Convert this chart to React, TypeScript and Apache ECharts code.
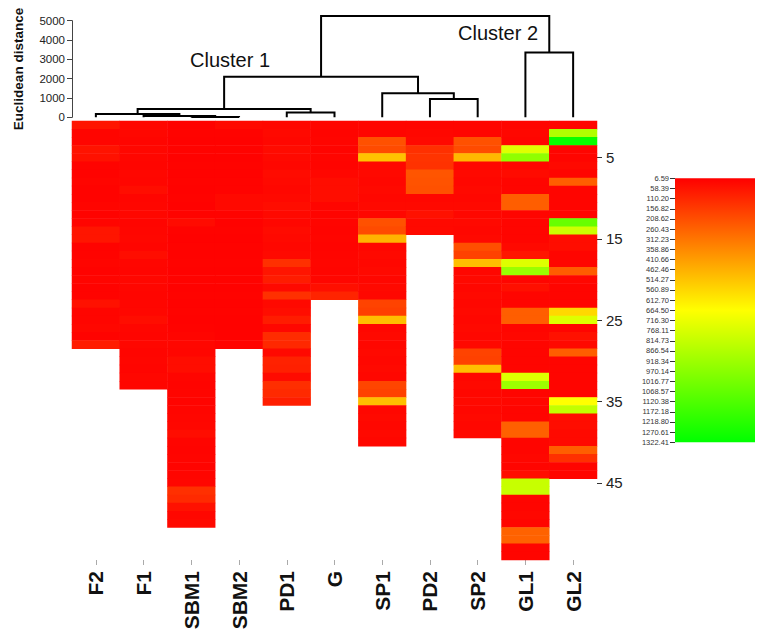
import React, { useEffect, useRef } from "react";
import * as echarts from "echarts";

// ---- Data ----
const categories = ["F2", "F1", "SBM1", "SBM2", "PD1", "G", "SP1", "PD2", "SP2", "GL1", "GL2"];

const colF2 = [60, 20, 20, 55, 50, 15, 15, 20, 15, 15, 20, 15, 20, 60, 60, 15, 15, 20, 15, 20, 15, 15, 50, 20, 20, 25, 15, 80];
const colF1 = [22, 25, 20, 25, 22, 20, 25, 22, 40, 20, 22, 25, 20, 22, 25, 20, 40, 22, 20, 25, 22, 20, 22, 25, 40, 22, 20, 25, 20, 22, 20, 25, 22];
const colSBM1 = [12, 15, 12, 14, 12, 15, 12, 14, 12, 15, 12, 14, 35, 15, 12, 14, 12, 15, 12, 14, 12, 15, 12, 14, 12, 15, 20, 25, 22, 40, 40, 20, 18, 20, 18, 20, 22, 25, 40, 20, 18, 20, 18, 20, 22, 130, 115, 50, 25, 30];
const colSBM2 = [30, 15, 12, 15, 12, 15, 12, 15, 15, 30, 30, 15, 12, 15, 12, 15, 12, 15, 12, 15, 12, 15, 12, 15, 12, 12, 12, 15];
const colPD1 = [25, 30, 25, 35, 30, 25, 35, 30, 25, 30, 40, 30, 25, 35, 30, 25, 30, 130, 60, 80, 30, 130, 30, 40, 80, 25, 120, 110, 30, 95, 90, 35, 125, 115, 85];
const colG = [20, 18, 20, 18, 20, 18, 25, 40, 40, 40, 20, 18, 20, 18, 20, 18, 20, 22, 20, 22, 45, 100];
const colSP1 = [20, 20, 215, 200, 510, 25, 30, 25, 30, 25, 30, 25, 215, 200, 470, 25, 30, 25, 30, 25, 30, 25, 180, 170, 500, 25, 30, 25, 30, 25, 30, 25, 185, 175, 500, 25, 30, 25, 30, 25];
const colPD2 = [20, 25, 30, 130, 140, 135, 225, 220, 215, 25, 30, 50, 30, 30];
const colSP2 = [20, 20, 215, 200, 480, 25, 30, 25, 30, 25, 30, 25, 30, 25, 30, 210, 175, 500, 25, 30, 25, 30, 25, 30, 25, 30, 25, 30, 180, 175, 500, 25, 30, 25, 30, 25, 30, 25, 30];
const colGL1 = [20, 25, 20, 745, 950, 20, 35, 20, 20, 250, 250, 20, 20, 20, 20, 30, 60, 750, 927, 20, 45, 20, 20, 250, 250, 20, 25, 20, 20, 20, 20, 750, 920, 20, 25, 20, 20, 255, 255, 20, 20, 25, 20, 40, 810, 810, 20, 20, 25, 20, 260, 260, 20, 20];
const colGL2 = [20, 868, 1300, 20, 20, 30, 20, 250, 20, 20, 20, 20, 1059, 796, 40, 40, 20, 20, 245, 25, 20, 20, 20, 564, 752, 20, 50, 30, 250, 20, 20, 20, 20, 20, 664, 825, 40, 40, 30, 30, 250, 130, 20, 20];

const columns = [colF2, colF1, colSBM1, colSBM2, colPD1, colG, colSP1, colPD2, colSP2, colGL1, colGL2];
const rowCount = 54;
const shownRowTicks = [5, 15, 25, 35, 45];

// dendrogram merges (R hclust convention: negative = leaf index, positive = merge step)
const mergeLeft = [-3, -2, -1, -5, 3, -8, -7, 5, -10, 8];
const mergeRight = [-4, 1, 2, -6, 4, -9, 6, 7, -11, 9];
const mergeHeight = [20, 65, 165, 250, 430, 950, 1240, 2100, 3360, 5240];
const distanceTicks = [0, 1000, 2000, 3000, 4000, 5000];

const legendLabels = ["6.59", "58.39", "110.20", "156.82", "208.62", "260.43", "312.23", "358.86", "410.66", "462.46", "514.27", "560.89", "612.70", "664.50", "716.30", "768.11", "814.73", "866.54", "918.34", "970.14", "1016.77", "1068.57", "1120.38", "1172.18", "1218.80", "1270.61", "1322.41"];
const valueMin = 6.59;
const valueMax = 1322.41;
const rampColors = ["#ff0000", "#ffff00", "#00ff00"];

const FONT = "'Liberation Sans', Arial, sans-serif";

function buildHeatData() {
  const out: number[][] = [];
  columns.forEach((col, c) => {
    col.forEach((v, r) => out.push([c, r, v]));
  });
  return out;
}

function buildDendro() {
  const nodeX: number[] = [];
  const nodeH: number[] = [];
  const segs: number[][] = [];
  const pos = (id: number) => (id < 0 ? [-id - 1 + 0.5, 0] : [nodeX[id - 1], nodeH[id - 1]]);
  for (let i = 0; i < mergeLeft.length; i++) {
    const [xl, hl] = pos(mergeLeft[i]);
    const [xr, hr] = pos(mergeRight[i]);
    const h = mergeHeight[i];
    segs.push([xl, hl, xr, hr, h]);
    nodeX.push((xl + xr) / 2);
    nodeH.push(h);
  }
  return segs;
}

export default function App() {
  const ref = useRef<HTMLDivElement>(null);
  useEffect(() => {
    if (!ref.current) return;
    const chart = echarts.init(ref.current, undefined, { renderer: "svg" });
    const rowLabels = Array.from({ length: rowCount }, (_, i) => String(i + 1));
    const showRow = (idx: number) => shownRowTicks.includes(idx + 1);
    const option: any = {
      animation: false,
      backgroundColor: "#ffffff",
      textStyle: { fontFamily: FONT },
      grid: [
        { left: 72, right: 164, top: 121, height: 439 },
        { left: 72, right: 164, top: 20.7, height: 96.6 },
        { left: 675, top: 178.3, width: 80, height: 264 },
      ],
      xAxis: [
        {
          type: "category",
          gridIndex: 0,
          data: categories,
          position: "bottom",
          axisLine: { show: false },
          axisTick: { show: true, alignWithLabel: true, length: 5, lineStyle: { color: "#aaa" } },
          axisLabel: { rotate: 90, fontSize: 21, fontWeight: "bold", color: "#111", margin: 11, fontFamily: FONT },
          splitLine: { show: false },
        },
        { type: "value", gridIndex: 1, min: 0, max: 11, show: false },
        { type: "value", gridIndex: 2, min: 0, max: 1, show: false },
      ],
      yAxis: [
        {
          type: "category",
          gridIndex: 0,
          data: rowLabels,
          inverse: true,
          position: "right",
          axisLine: { show: false },
          axisTick: { show: true, alignWithLabel: true, length: 5, interval: (i: number) => showRow(i), lineStyle: { color: "#333" } },
          axisLabel: { interval: (i: number) => showRow(i), fontSize: 15, color: "#222", margin: 9, fontFamily: FONT },
          splitLine: { show: false },
        },
        {
          type: "value",
          gridIndex: 1,
          min: 0,
          max: 5000,
          interval: 1000,
          position: "left",
          offset: 4,
          axisLine: { show: true, lineStyle: { color: "#444" } },
          axisTick: { show: true, length: 5, lineStyle: { color: "#444" } },
          axisLabel: {
            fontSize: 11.5,
            color: "#222",
            margin: 3,
            fontFamily: FONT,
            formatter: (v: number) => (distanceTicks.includes(v) ? String(v) : ""),
          },
          splitLine: { show: false },
          name: "Euclidean distance",
          nameLocation: "middle",
          nameRotate: 90,
          nameGap: 43,
          nameTextStyle: { fontSize: 13.5, fontWeight: "bold", color: "#111", fontFamily: FONT },
        },
        {
          type: "category",
          gridIndex: 2,
          data: legendLabels,
          inverse: true,
          boundaryGap: false,
          position: "left",
          offset: 3,
          axisLine: { show: false },
          axisTick: { show: true, length: 5, lineStyle: { color: "#333" } },
          axisLabel: { fontSize: 7.5, color: "#333", margin: 3, interval: 0, fontFamily: FONT },
          splitLine: { show: false },
        },
      ],
      visualMap: {
        type: "continuous",
        show: false,
        seriesIndex: 0,
        dimension: 2,
        min: valueMin,
        max: valueMax,
        inRange: { color: rampColors },
      },
      graphic: [
        {
          type: "text",
          left: 190,
          top: 50,
          style: { text: "Cluster 1", fontSize: 20, fill: "#111", fontFamily: FONT },
        },
        {
          type: "text",
          left: 458,
          top: 23,
          style: { text: "Cluster 2", fontSize: 20, fill: "#111", fontFamily: FONT },
        },
      ],
      series: [
        {
          type: "heatmap",
          xAxisIndex: 0,
          yAxisIndex: 0,
          data: buildHeatData(),
          itemStyle: { borderWidth: 0 },
          emphasis: { disabled: true },
        },
        {
          type: "custom",
          xAxisIndex: 1,
          yAxisIndex: 1,
          clip: false,
          data: buildDendro(),
          renderItem: (_params: any, api: any) => {
            const xl = api.value(0), hl = api.value(1), xr = api.value(2), hr = api.value(3), h = api.value(4);
            const pts = [api.coord([xl, hl]), api.coord([xl, h]), api.coord([xr, h]), api.coord([xr, hr])];
            return {
              type: "polyline",
              shape: { points: pts },
              style: { stroke: "#000", lineWidth: 2, fill: null },
            };
          },
        },
        {
          type: "custom",
          xAxisIndex: 2,
          yAxisIndex: 2,
          data: [[0.5, 0]],
          renderItem: (params: any) => {
            const cs = params.coordSys;
            return {
              type: "rect",
              shape: { x: cs.x, y: cs.y, width: cs.width, height: cs.height },
              style: {
                fill: new echarts.graphic.LinearGradient(0, 0, 0, 1, rampColors.map((c, i) => ({ offset: i / (rampColors.length - 1), color: c }))),
              },
            };
          },
        },
      ],
    };
    chart.setOption(option);
    return () => chart.dispose();
  }, []);
  return <div ref={ref} style={{ position: "fixed", left: 0, top: 0, width: 761, height: 636 }} />;
}
